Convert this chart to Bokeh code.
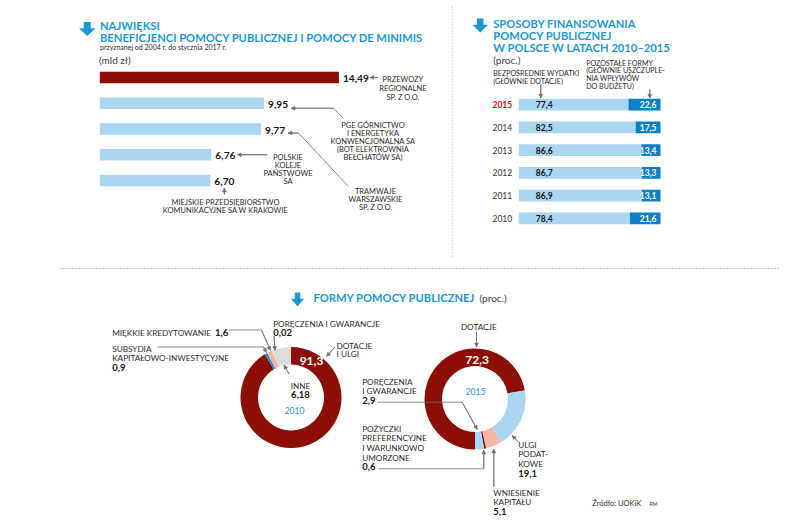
import math
from bokeh.plotting import figure
from bokeh.models import Range1d, Arrow, NormalHead
from bokeh.core.properties import value
from bokeh.embed import file_html
from bokeh.resources import INLINE

# ---------------- data ----------------
beneficiary_lines = [
    ["PRZEWOZY", "REGIONALNE", "SP. Z O.O."],
    ["PGE GÓRNICTWO", "I ENERGETYKA", "KONWENCJONALNA SA", "(BOT ELEKTROWNIA", "BEŁCHATÓW SA)"],
    ["TRAMWAJE", "WARSZAWSKIE", "SP. Z O.O."],
    ["POLSKIE", "KOLEJE", "PAŃSTWOWE", "SA"],
    ["MIEJSKIE PRZEDSIĘBIORSTWO", "KOMUNIKACYJNE SA W KRAKOWIE"],
]
aid_bn_pln = [14.49, 9.95, 9.77, 6.76, 6.70]

years = ["2015", "2014", "2013", "2012", "2011", "2010"]
direct_pct = [77.4, 82.5, 86.6, 86.7, 86.9, 78.4]
other_pct = [22.6, 17.5, 13.4, 13.3, 13.1, 21.6]

forms_2010_labels = ["DOTACJE I ULGI", "SUBSYDIA KAPITAŁOWO-INWESTYCYJNE",
                     "MIĘKKIE KREDYTOWANIE", "PORĘCZENIA I GWARANCJE", "INNE"]
forms_2010_pct = [91.3, 0.9, 1.6, 0.02, 6.18]
forms_2015_labels = ["DOTACJE", "ULGI PODATKOWE", "WNIESIENIE KAPITAŁU",
                     "POŻYCZKI PREFERENCYJNE I WARUNKOWO UMORZONE", "PORĘCZENIA I GWARANCJE"]
forms_2015_pct = [72.3, 19.1, 5.1, 0.6, 2.9]

# ---------------- style ----------------
DARKRED = "#8b0f05"
LIGHTBLUE = "#aad5f3"
DARKBLUE = "#0f7fc4"
TITLEBLUE = "#1c97d6"
SALMON = "#f3b6a4"
GREY = "#dddddd"
MIDBLUE = "#1f90d8"
TXT = "#2b2b2b"
NUM = "#151515"
LEAD = "#707070"
FONT = "Lato"
TITLE_SIZE = 11.2
LAB_TOP = 7.5
LAB_BOT = 8.2

W, H = 780, 516
p = figure(width=W, height=H, x_range=Range1d(0, W), y_range=Range1d(0, H),
           output_backend="svg", toolbar_location=None, min_border=0)
p.axis.visible = False
p.grid.visible = False
p.outline_line_color = None
p.background_fill_color = "white"
p.border_fill_color = "white"


def Y(v):
    return H - v


def txt(x, y, s, size, color=TXT, bold=False, align="left"):
    p.text(x=[x], y=[Y(y)], text=[s], text_font=value(FONT), text_font_size=f"{size}px",
           text_font_style="bold" if bold else "normal", text_color=color,
           text_align=align, text_baseline="middle")


def block(x, y0, lines, size, dy, align="center", color=TXT):
    for i, s in enumerate(lines):
        txt(x, y0 + i * dy, s, size, color=color, align=align)


def leader(pts, head=True):
    xs = [q[0] for q in pts]
    ys = [Y(q[1]) for q in pts]
    p.line(xs, ys, line_color=LEAD, line_width=0.8)
    if head:
        a, b = pts[-2], pts[-1]
        p.add_layout(Arrow(end=NormalHead(size=4, line_color=LEAD, fill_color=LEAD, line_width=0.5),
                           x_start=a[0], y_start=Y(a[1]), x_end=b[0], y_end=Y(b[1]),
                           line_color=LEAD, line_width=0.8))


def arrow_icon(x0, y0, w, h):
    cx = x0 + w / 2
    sw = w * 0.42
    yh = y0 + h * 0.45
    xs = [cx - sw / 2, cx + sw / 2, cx + sw / 2, x0 + w, cx, x0, cx - sw / 2]
    ys = [y0, y0, yh, yh, y0 + h, yh, yh]
    p.patch(xs, [Y(v) for v in ys], fill_color=TITLEBLUE, line_color=None)


def fmt(v, nd=None):
    s = f"{v:.{nd}f}" if nd is not None else str(v)
    return s.replace(".", ",")


# ---------------- dividers ----------------
p.line([451.7, 451.7], [Y(6), Y(258)], line_color="#9a9a9a", line_width=1, line_dash="1 2")
p.line([60, 779], [Y(268), Y(268)], line_color="#9a9a9a", line_width=1, line_dash="1 2")

# ---------------- left panel: beneficiaries ----------------
arrow_icon(78.5, 21.5, 16.5, 14)
txt(99.5, 24.5, "NAJWIĘKSI", TITLE_SIZE, color=TITLEBLUE, bold=True)
txt(99.5, 36.7, "BENEFICJENCI POMOCY PUBLICZNEJ I POMOCY DE MINIMIS", TITLE_SIZE, color=TITLEBLUE, bold=True)
txt(99.5, 46, "przyznanej od 2004 r. do stycznia 2017 r.", 7, color=TXT)
txt(98.5, 59, "(mld zł)", 10, color="#444444")

x0 = 99.3
k1 = 16.5
bar_y = [77 + i * 25.75 for i in range(len(aid_bn_pln))]
bar_end = [x0 + v * k1 for v in aid_bn_pln]
p.hbar(y=[Y(v) for v in bar_y], left=x0, right=bar_end, height=11.5,
       fill_color=[DARKRED] + [LIGHTBLUE] * (len(aid_bn_pln) - 1), line_color=None)
for i, v in enumerate(aid_bn_pln):
    txt(bar_end[i] + 4, bar_y[i] + 1, fmt(v, 2), 10.2, color=NUM, bold=True)

# 0: PRZEWOZY
tip = bar_end[0] + 31
leader([(tip + 8, bar_y[0]), (tip, bar_y[0])])
block(tip + 33, 79, beneficiary_lines[0], LAB_TOP, 9)
# 1: PGE
tip = bar_end[1] + 27
leader([(343, 118), (333, bar_y[1] + 5), (tip, bar_y[1] + 5)])
block(372.5, 125, beneficiary_lines[1], LAB_TOP, 8)
# 2: TRAMWAJE
tip = bar_end[2] + 27
leader([(348, 186), (298, bar_y[2] + 4), (tip, bar_y[2] + 4)])
block(375, 191, beneficiary_lines[2], LAB_TOP, 8.2)
# 3: PKP
tip = bar_end[3] + 26
leader([(266.7, bar_y[3]), (tip, bar_y[3])])
block(287.5, 156.7, beneficiary_lines[3], LAB_TOP, 8)
# 4: MPK
lx = bar_end[4] + 14
leader([(lx, 194), (lx, 187.5)])
block(225, 202.3, beneficiary_lines[4], LAB_TOP, 8)

# ---------------- right panel: financing ----------------
arrow_icon(472, 18, 15.5, 14)
txt(492.7, 22.5, "SPOSOBY FINANSOWANIA", TITLE_SIZE, color=TITLEBLUE, bold=True)
txt(492.7, 34.8, "POMOCY PUBLICZNEJ", TITLE_SIZE, color=TITLEBLUE, bold=True)
txt(492.7, 46.7, "W POLSCE W LATACH 2010–2015", TITLE_SIZE, color=TITLEBLUE, bold=True)
txt(492.7, 59.5, "(proc.)", 10, color="#444444")
block(585.7, 62.5, ["POZOSTAŁE FORMY", "(GŁÓWNIE USZCZUPLE-", "NIA WPŁYWÓW", "DO BUDŻETU)"], 7.1, 7.8, align="left")
block(492.7, 73, ["BEZPOŚREDNIE WYDATKI", "(GŁÓWNIE DOTACJE)"], 7.1, 7.8, align="left")

xr = 518.3
k2 = 1.417
row_y = [104.2 + i * 22.75 for i in range(len(years))]
split = [xr + d * k2 for d in direct_pct]
ends = [xr + (d + o) * k2 for d, o in zip(direct_pct, other_pct)]
p.hbar(y=[Y(v) for v in row_y], left=xr, right=split, height=11.7, fill_color=LIGHTBLUE, line_color=None)
p.hbar(y=[Y(v) for v in row_y], left=split, right=ends, height=11.7, fill_color=DARKBLUE, line_color=None)
for i, yr in enumerate(years):
    first = i == 0
    txt(511.7, row_y[i], yr, 8.5, color="#e3061b" if first else "#333333", bold=first, align="right")
    txt(xr + 17, row_y[i], fmt(direct_pct[i], 1), 8.5, color=NUM, bold=True)
    txt(ends[i] - 4, row_y[i], fmt(other_pct[i], 1), 8.5, color="white", bold=True, align="right")
leader([(xr + 22, 84), (xr + 22, row_y[0] - 6.5)])
leader([(649.3, 89), (649.3, row_y[0] - 6.5)])

# ---------------- bottom: forms ----------------
arrow_icon(290.5, 292, 13, 14)
txt(313, 297, "FORMY POMOCY PUBLICZNEJ", TITLE_SIZE, color=TITLEBLUE, bold=True)
txt(479, 297.5, "(proc.)", 10, color="#444444")

R_OUT, R_IN = 50.5, 33


def donut(cx, cy, vals, colors, start_deg):
    cum = 0.0
    starts, endsa = [], []
    for v in vals:
        a1 = start_deg - cum * 3.6
        a0 = start_deg - (cum + v) * 3.6
        starts.append(math.radians(a0))
        endsa.append(math.radians(a1))
        cum += v
    p.annular_wedge(x=[cx] * len(vals), y=[Y(cy)] * len(vals), inner_radius=R_IN, outer_radius=R_OUT,
                    start_angle=starts, end_angle=endsa, fill_color=colors, line_color=None)


# 2010 donut, clockwise from 12 o'clock
c10x, c10y = 290.5, 397
donut(c10x, c10y, forms_2010_pct, [DARKRED, MIDBLUE, SALMON, "#8a8a8a", GREY], 90)
txt(311, 360, fmt(forms_2010_pct[0]), 12, color="white", bold=True, align="center")
block(336, 345, ["DOTACJE", "I ULGI"], LAB_BOT, 8.5, align="left")
leader([(334.5, 346.5), (326, 356)])
txt(111.7, 332, "MIĘKKIE KREDYTOWANIE", LAB_BOT, align="left")
txt(214.5, 332, fmt(forms_2010_pct[2]), 9.5, color=NUM, bold=True)
leader([(228.5, 329.5), (261, 329.5), (270, 350)])
block(111.7, 348.3, ["SUBSYDIA", "KAPITAŁOWO-INWESTYCYJNE"], LAB_BOT, 9, align="left")
txt(111.7, 367.3, fmt(forms_2010_pct[1]), 9.5, color=NUM, bold=True)
leader([(157, 346.5), (263, 346.5), (266, 352)])
txt(272.7, 323.3, "PORĘCZENIA I GWARANCJE", LAB_BOT, align="left")
txt(272.7, 332, fmt(forms_2010_pct[3]), 9.5, color=NUM, bold=True)
leader([(273.5, 335.5), (274.5, 350)])
txt(300, 385, "INNE", LAB_BOT, align="center")
txt(300, 394, fmt(forms_2010_pct[4]), 9.5, color=NUM, bold=True, align="center")
leader([(288.5, 373.5), (283.5, 364.5)])
txt(294, 410, "2010", 8.5, color=MIDBLUE, align="center")

# 2015 donut, clockwise from 6 o'clock
c15x, c15y = 474.5, 398.5
donut(c15x, c15y, forms_2015_pct, [DARKRED, LIGHTBLUE, SALMON, "#6e0c06", LIGHTBLUE], -90)
txt(476.7, 359, fmt(forms_2015_pct[0]), 12, color="white", bold=True, align="center")
txt(478.3, 326.7, "DOTACJE", LAB_BOT, align="center")
leader([(476, 331.5), (476, 346.5)])
txt(475, 390.7, "2015", 8.5, color=MIDBLUE, align="center")
block(361.7, 381, ["PORĘCZENIA", "I GWARANCJE"], LAB_BOT, 9, align="left")
txt(361.7, 399.5, fmt(forms_2015_pct[4]), 9.5, color=NUM, bold=True)
leader([(377, 401.7), (461.7, 401.7), (476.7, 429)])
block(361.7, 428.3, ["POŻYCZKI", "PREFERENCYJNE", "I WARUNKOWO", "UMORZONE"], LAB_BOT, 9.6, align="left")
txt(361.7, 466, fmt(forms_2015_pct[3]), 9.5, color=NUM, bold=True)
leader([(378.5, 468.3), (483.3, 468.3), (483.3, 449.5)])
block(517.7, 444.3, ["ULGI", "PODAT-", "KOWE"], LAB_BOT, 9.5, align="left")
txt(517.7, 473, fmt(forms_2015_pct[1]), 9.5, color=NUM, bold=True)
leader([(518.3, 441.7), (511.5, 435)])
block(492.7, 492.7, ["WNIESIENIE", "KAPITAŁU"], LAB_BOT, 9, align="left")
txt(492.7, 510.5, fmt(forms_2015_pct[2]), 9.5, color=NUM, bold=True)
leader([(493.3, 486.5), (493.3, 448.5)])

txt(591.7, 503.3, "Źródło: UOKiK", 7.5, color="#333333")
txt(649, 503.5, "RM", 5, color="#333333")

open("out.html", "w").write(file_html(p, INLINE))
